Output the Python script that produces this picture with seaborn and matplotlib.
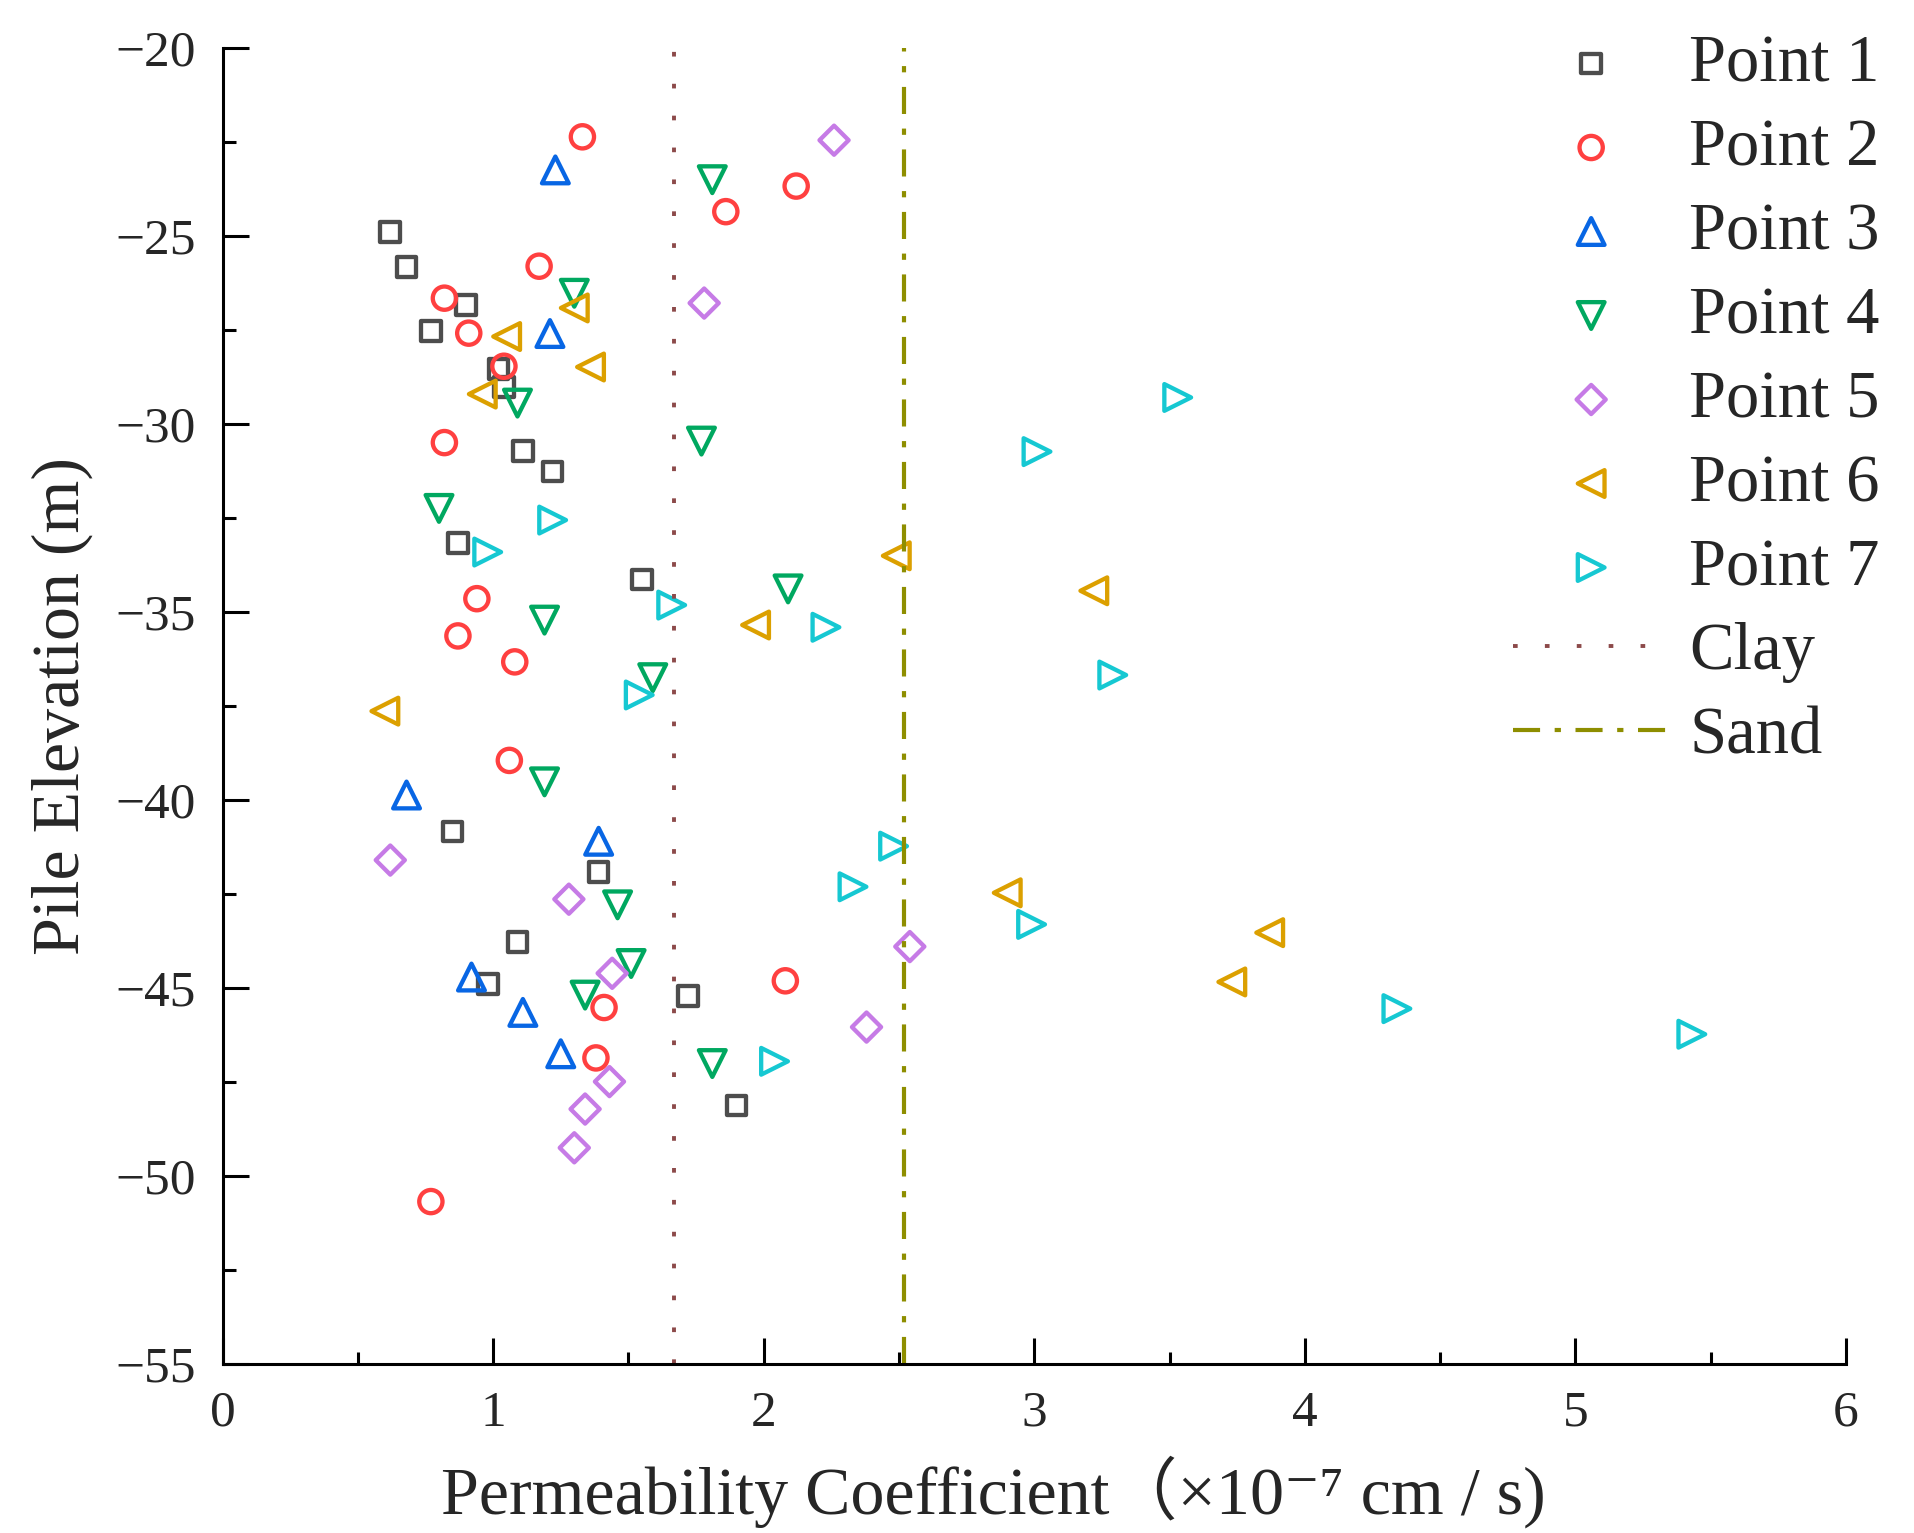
import matplotlib
matplotlib.use('Agg')
import matplotlib.pyplot as plt
from matplotlib.ticker import MultipleLocator
import seaborn as sns

# permeability coefficient (x1e-7 cm/s) and pile elevation (m) per monitoring point
p1_k = [0.62, 0.68, 0.90, 0.77, 1.02, 1.04, 1.11, 1.22, 0.87, 1.55, 0.85, 1.39, 1.09, 0.98, 1.72, 1.90]
p1_elev = [-24.90, -25.83, -26.85, -27.53, -28.55, -29.03, -30.72, -31.27, -33.17, -34.14, -40.84, -41.91,
           -43.77, -44.90, -45.21, -48.13]
p2_k = [1.33, 2.12, 1.86, 1.17, 0.82, 0.91, 1.04, 0.82, 0.94, 0.87, 1.08, 1.06, 2.08, 1.41, 1.38, 0.77]
p2_elev = [-22.37, -23.68, -24.36, -25.81, -26.66, -27.59, -28.47, -30.50, -34.65, -35.64, -36.33, -38.95,
           -44.81, -45.52, -46.86, -50.68]
p3_k = [1.23, 1.21, 0.68, 1.39, 0.92, 1.11, 1.25]
p3_elev = [-23.25, -27.60, -39.87, -41.10, -44.71, -45.65, -46.75]
p4_k = [1.81, 1.30, 1.09, 1.77, 0.80, 1.19, 2.09, 1.59, 1.19, 1.46, 1.51, 1.34, 1.81]
p4_elev = [-23.51, -26.53, -29.45, -30.46, -32.25, -35.22, -34.39, -36.75, -39.52, -42.79, -44.35, -45.19, -47.01]
p5_k = [2.26, 1.78, 0.62, 1.28, 2.54, 1.44, 2.38, 1.43, 1.34, 1.30]
p5_elev = [-22.46, -26.79, -41.60, -42.64, -43.90, -44.61, -46.04, -47.49, -48.22, -49.25]
p6_k = [1.30, 1.05, 1.36, 0.96, 2.49, 1.97, 0.60, 3.22, 2.90, 3.87, 3.73]
p6_elev = [-26.92, -27.68, -28.49, -29.21, -33.51, -35.35, -37.64, -34.44, -42.47, -43.53, -44.84]
p7_k = [1.22, 0.98, 1.66, 2.23, 1.54, 3.53, 3.01, 3.29, 2.48, 2.33, 2.04, 2.99, 4.34, 5.43]
p7_elev = [-32.56, -33.41, -34.82, -35.41, -37.21, -29.30, -30.74, -36.68, -41.23, -42.31, -46.95, -43.31,
           -45.55, -46.23]

point_names = ['Point 1', 'Point 2', 'Point 3', 'Point 4', 'Point 5', 'Point 6', 'Point 7']
point_colors = ['#4d4d4d', '#ff4040', '#0866e4', '#00a860', '#c67be6', '#dca000', '#16c8d2']
point_markers = ['s', 'o', '^', 'v', 'D', '<', '>']

# reference permeability of the soil layers
clay_k = 1.67
sand_k = 2.52

sns.set_style('ticks')
plt.rcParams['font.family'] = ['Liberation Serif', 'Noto Sans CJK SC', 'DejaVu Sans']
plt.rcParams['axes.unicode_minus'] = True

fig = plt.figure(figsize=(19.15, 15.33), dpi=100)
ax = fig.add_axes([0.1162, 0.1102, 0.8478, 0.8587])

marker_area = {'s': 200, 'o': 280, '^': 370, 'v': 370, 'D': 220, '<': 370, '>': 370}
all_k = [p1_k, p2_k, p3_k, p4_k, p5_k, p6_k, p7_k]
all_elev = [p1_elev, p2_elev, p3_elev, p4_elev, p5_elev, p6_elev, p7_elev]
for k, elev, name, col, m in zip(all_k, all_elev, point_names, point_colors, point_markers):
    sns.scatterplot(x=k, y=elev, ax=ax, marker=m, s=marker_area[m], color=col,
                    facecolors='none', edgecolor=col, linewidth=3.1, label=name, legend=False)

ax.axvline(clay_k, color='#8c4a4a', lw=2.8, linestyle=(0, (1.2, 7)), label='Clay')
ax.axvline(sand_k, color='#8e8e00', lw=3.0, linestyle=(0, (6.5, 3.5, 1.5, 3.5)), label='Sand')

ax.set_xlim(0, 6)
ax.set_ylim(-55, -20)
ax.xaxis.set_major_locator(MultipleLocator(1))
ax.xaxis.set_minor_locator(MultipleLocator(0.5))
ax.yaxis.set_major_locator(MultipleLocator(5))
ax.yaxis.set_minor_locator(MultipleLocator(2.5))
ax.tick_params(which='major', direction='in', length=18.5, width=2.2, pad=19, labelsize=37, color='black')
ax.tick_params(which='minor', direction='in', length=9, width=2.2, color='black')
for side in ['top', 'right']:
    ax.spines[side].set_visible(False)
for side in ['left', 'bottom']:
    ax.spines[side].set_linewidth(2.2)
    ax.spines[side].set_color('black')

ax.set_xlabel('Permeability Coefficient（×10⁻⁷ cm / s)', fontsize=49, va='baseline')
ax.xaxis.set_label_coords(0.4746, -0.1139)
ax.set_ylabel('Pile Elevation (m)', fontsize=49, va='baseline')
ax.yaxis.set_label_coords(-0.0887, 0.5)

ax.legend(loc='upper right', bbox_to_anchor=(1880 / 1915, 1 - 34 / 1533), bbox_transform=fig.transFigure,
          frameon=False, fontsize=48, handlelength=2.35, handletextpad=0.3, labelspacing=0.345,
          borderpad=0, borderaxespad=0, scatterpoints=1, markerscale=1.0)

fig.savefig('out.png', dpi=100)
